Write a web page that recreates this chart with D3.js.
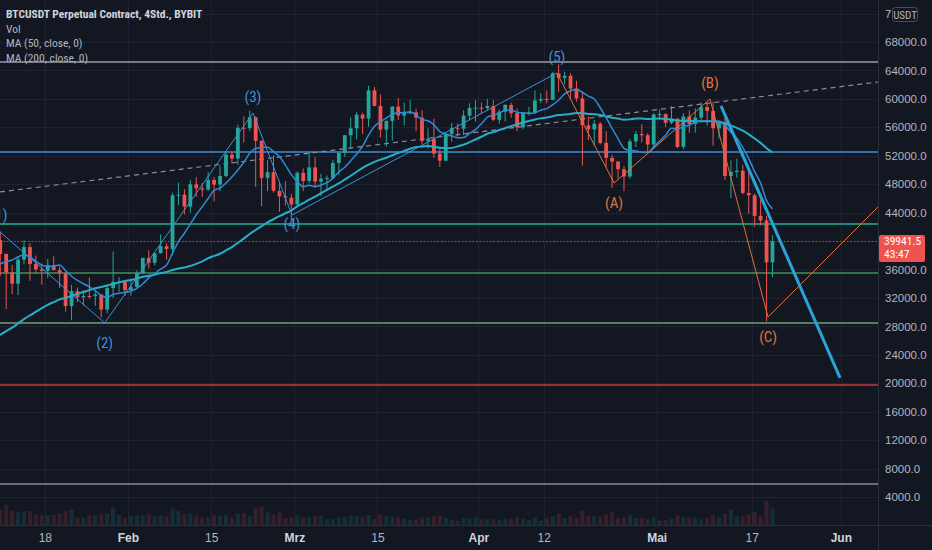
<!DOCTYPE html>
<html>
<head>
<meta charset="utf-8">
<script src="https://cdn.jsdelivr.net/npm/d3@7"></script>
<style>
  html, body { margin: 0; padding: 0; background: #131722; }
  svg { display: block; font-family: 'Liberation Sans Narrow', 'Roboto Condensed', Roboto, sans-serif; }
</style>
</head>
<body>
<div id="chart"></div>
<script>
// ---- data (daily candles) ----
const firstDay = "2021-01-10"

const opens = [
  40150,38180,35570,34000,37390,39150,36770,36010,35800,36630,35890,35470,30850,32950,32080,32260,32250,32470,30360,33370,34250,34260,
  33090,33520,35470,37620,36940,38290,39260,38870,46450,46510,44840,47970,47410,47230,48590,47940,49160,52150,51600,55920,55880,57410,54090,48890,49680,47060,46280,46100,
  45140,49590,48440,50350,48370,48760,48880,50970,52380,54880,55850,57770,57220,61190,59000,55660,56900,58910,57650,58030,58100,57350,54080,54340,52300,51300,55070,55860,55780,57630,58730,
  58740,58720,58990,57060,58200,59130,57990,56000,58080,58100,59770,59980,59860,63580,62950,63230,61450,60060,56270,55700,56500,53800,51700,51190,50100,49070,54020,55050,54880,53580,
  57800,57850,56630,57210,53240,57510,56440,57360,58840,58280,55860,56700,49150,49720,49890,46760,46430,43540,42900,37000
]
const highs = [
  41350,38260,36630,37850,40100,39700,37950,36850,37470,37850,36420,35600,33830,33460,33070,34880,32920,32560,33780,38530,34900,34300,
  34720,35900,37660,38700,38310,40950,39700,46790,48200,47300,48630,48980,48150,49710,49000,50600,52620,52550,56370,57520,58350,57530,54180,51370,52040,48420,48400,46640,
  49800,50200,52640,51770,49450,49200,51450,52400,54900,57390,58150,58050,61840,61680,60630,56930,58980,60100,59470,59880,58600,58400,55840,57200,53240,55100,56600,56550,58400,59370,59800,
  59460,60000,59800,58500,59250,59460,58650,58150,58870,61200,60800,61200,63770,64850,63800,63600,62550,61000,57500,57050,56760,55450,52130,51200,50550,54350,55460,56430,55200,57960,
  58460,57950,58980,57250,57950,58380,58650,59500,59300,59600,56900,58000,51350,51550,50700,49800,46650,45800,43550,40800
]
const lows = [
  35110,30420,32530,32400,36700,34410,35360,33850,34800,35900,33400,30070,28850,31400,30900,31900,30840,29240,29840,31990,32850,32300,
  32300,33420,35360,36160,36570,38220,37350,37990,45000,43730,44000,46200,46200,47050,45550,47010,48950,50900,50710,53860,55480,47620,44900,47000,46800,44100,45000,43000,
  45000,47050,48100,47500,46300,47070,48700,49270,51850,53000,54270,55050,56080,58950,54570,53270,54120,57020,56270,57820,55450,53650,53000,51700,50430,51230,53960,54700,54900,57000,56770,
  57850,58400,56860,56500,56800,57350,55470,55700,57670,57900,59370,59370,59800,61000,62020,60000,59580,50600,54200,53400,53600,50400,47500,48750,47000,48800,53220,53880,52330,53050,
  57050,56050,56450,53050,52900,55200,55250,56950,56250,53400,54400,48600,46000,48900,46560,43830,42000,42200,28700,34900
]
const closes = [
  38180,35570,34000,37390,39150,36770,36010,35800,36630,35890,35470,30850,32950,32080,32260,32250,32470,30360,33370,34250,34260,33090,
  33520,35470,37620,36940,38290,39260,38870,46450,46510,44840,47970,47410,47230,48590,47940,49160,52150,51600,55920,55880,57410,54090,48890,49680,47060,46280,46100,45140,
  49590,48440,50350,48370,48760,48880,50970,52380,54880,55850,57770,57220,61190,59000,55660,56900,58910,57650,58030,58100,57350,54080,54340,52300,51300,55070,55860,55780,57630,58730,58740,
  58720,58990,57060,58200,59130,57990,56000,58080,58100,59770,59980,59860,63580,62950,63230,61450,60060,56270,55700,56500,53800,51700,51190,50100,49070,54020,55050,54880,53580,57800,
  57850,56630,57210,53240,57510,56440,57360,58840,58280,55860,56700,49150,49720,49890,46760,46430,43540,42900,37000,39941.5
]
const volumes = [
  120,160,110,100,110,110,80,75,75,80,90,110,120,60,55,75,75,90,90,140,80,55,
  70,75,80,90,70,80,70,130,110,90,90,75,60,60,80,75,80,60,90,95,70,140,150,100,85,100,55,60,
  75,60,65,70,75,45,50,60,65,75,70,65,80,50,80,70,65,60,50,40,45,60,60,70,75,55,40,35,55,50,60,
  45,50,50,40,50,50,65,50,40,60,35,50,70,90,55,70,55,110,75,70,65,85,100,55,60,80,55,55,50,60,
  35,40,50,75,65,60,60,45,55,80,60,90,120,70,70,85,100,65,190,130
]
// closes 2020-12-05 .. 2021-01-09, only needed to warm up the moving averages
const warmupCloses = [
  19150,19360,19170,18320,18550,18250,18040,18800,19170,19270,19430,21380,22800,23110,23850,23480,22750,23820,23240,23730,
  24710,26490,26280,27080,27390,28880,28930,29330,32180,33000,31990,33950,36770,39430,40580,40150
]

// horizontal levels drawn on the chart
const levelPrices = [65180, 52520, 42390, 35500, 28470, 19750, 5820]
const lastPrice = 39941.5
const countdown = "43:47"

// elliott wave drawings
const impulseDates = ["2021-01-10T07:00Z", "2021-01-28T02:00Z", "2021-02-22T01:00Z", "2021-02-28T14:30Z", "2021-04-14T05:00Z"]
const impulsePrices = [41400, 28480, 58010, 43660, 63640]
const impulseLabels = ["(1)", "(2)", "(3)", "(4)", "(5)"]
const correctionDates = ["2021-04-14T05:00Z", "2021-04-23T20:00Z", "2021-05-09T23:30Z", "2021-05-19T18:00Z", "2021-06-07T06:15Z"]
const correctionPrices = [63640, 48170, 59970, 29300, 44790]
const correctionLabels = ["", "(A)", "(B)", "(C)", ""]
const trendDates = ["2021-05-11T20:00Z", "2021-05-31T21:00Z"]
const trendPrices = [59010, 20740]
const dashedDates = ["2021-01-10T11:00Z", "2021-06-07T06:15Z"]
const dashedPrices = [46900, 62370]

// axis ticks
const yTicks = d3.range(4000, 76000, 4000)
const xTickDates = ["2021-01-18", "2021-02-01", "2021-02-15", "2021-03-01", "2021-03-15", "2021-04-01", "2021-04-12", "2021-05-01", "2021-05-17", "2021-06-01"]
const xTickLabels = ["18", "Feb", "15", "Mrz", "15", "Apr", "12", "Mai", "17", "Jun"]

const legendLines = ["BTCUSDT Perpetual Contract, 4Std., BYBIT", "Vol", "MA (50, close, 0)", "MA (200, close, 0)"]

function draw() {
  const dims = { width: 932, height: 550, plotW: 878, plotH: 525 }
  const colors = {
    bg: '#131722', grid: '#1f2331', border: '#2a2e39', text: '#b2b5be',
    up: '#26a69a', down: '#ef5350', ma50: '#2e8bd6', ma200: '#27aecb',
    wave: '#3d92d6', corr: '#e2703a', trend: '#29a3d8'
  }
  // one style per level line
  const levelStyles = [
    { c: '#777a85', w: 2 }, { c: '#3b8fd9', w: 1.5 }, { c: '#1d8a78', w: 2 }, { c: '#3f9357', w: 1.5 },
    { c: '#5b7d5d', w: 2 }, { c: '#9c2d31', w: 2 }, { c: '#6b6e79', w: 2 }
  ]

  // build candle rows from the arrays
  const start = new Date(firstDay + "T00:00Z")
  const candles = closes.map((c, i) => ({
    date: d3.utcDay.offset(start, i), o: opens[i], h: highs[i], l: lows[i], c: c, v: volumes[i]
  }))

  // moving averages: 50 / 200 bars of 4h ~ 8 / 33 days
  const allCloses = warmupCloses.concat(closes)
  const allStart = d3.utcDay.offset(start, -warmupCloses.length)
  const sma = (n) => allCloses.map((c, i) => i < n - 1 ? null : {
    date: d3.utcHour.offset(d3.utcDay.offset(allStart, i), 12),
    value: d3.mean(allCloses.slice(i - n + 1, i + 1))
  }).filter(d => d)

  const svg = d3.select('#chart').append('svg')
    .attr('width', dims.width).attr('height', dims.height)
  svg.append('rect').attr('width', dims.width).attr('height', dims.height).attr('fill', colors.bg)

  // scales
  const xScale = d3.scaleUtc()
    .domain([new Date("2021-01-10T11:00Z"), new Date("2021-06-07T06:15Z")])
    .range([0, dims.plotW])
  const yScale = d3.scaleLinear().domain([0, 73900]).range([525.4, 0])
  const volScale = d3.scaleLinear().domain([0, 190]).range([0, 24])
  const pxDay = xScale(new Date("2021-02-02")) - xScale(new Date("2021-02-01"))

  svg.append('clipPath').attr('id', 'plot-clip')
    .append('rect').attr('width', dims.plotW).attr('height', dims.plotH)
  const plot = svg.append('g').attr('clip-path', 'url(#plot-clip)')

  // grid
  plot.append('g').selectAll('line').data(yTicks).join('line')
    .attr('x1', 0).attr('x2', dims.plotW)
    .attr('y1', d => Math.round(yScale(d)) + 0.5).attr('y2', d => Math.round(yScale(d)) + 0.5)
    .attr('stroke', colors.grid)
  plot.append('g').selectAll('line').data(xTickDates).join('line')
    .attr('x1', d => Math.round(xScale(new Date(d))) + 0.5).attr('x2', d => Math.round(xScale(new Date(d))) + 0.5)
    .attr('y1', 0).attr('y2', dims.plotH)
    .attr('stroke', colors.grid)

  // volume
  plot.append('g').selectAll('rect').data(candles).join('rect')
    .attr('x', d => xScale(d3.utcHour.offset(d.date, 12)) - pxDay * 0.35)
    .attr('width', pxDay * 0.7)
    .attr('y', d => dims.plotH - volScale(d.v))
    .attr('height', d => volScale(d.v))
    .attr('fill', d => d.c >= d.o ? colors.up : colors.down)
    .attr('opacity', 0.16)

  // horizontal levels
  plot.append('g').selectAll('line').data(levelPrices).join('line')
    .attr('x1', 0).attr('x2', dims.plotW)
    .attr('y1', d => yScale(d)).attr('y2', d => yScale(d))
    .attr('stroke', (d, i) => levelStyles[i].c)
    .attr('stroke-width', (d, i) => levelStyles[i].w)

  // dashed trend line
  const line = d3.line().x(d => xScale(d[0])).y(d => yScale(d[1]))
  plot.append('path')
    .attr('d', line(dashedDates.map((d, i) => [new Date(d), dashedPrices[i]])))
    .attr('stroke', '#8a8d96').attr('stroke-width', 1.2).attr('stroke-dasharray', '5,4').attr('fill', 'none')

  // candles
  const cg = plot.append('g').selectAll('g').data(candles).join('g')
    .attr('fill', d => d.c >= d.o ? colors.up : colors.down)
    .attr('stroke', d => d.c >= d.o ? colors.up : colors.down)
  cg.append('line')
    .attr('x1', d => xScale(d3.utcHour.offset(d.date, 12))).attr('x2', d => xScale(d3.utcHour.offset(d.date, 12)))
    .attr('y1', d => yScale(d.h)).attr('y2', d => yScale(d.l))
    .attr('stroke-width', 1)
  cg.append('rect')
    .attr('stroke', 'none')
    .attr('x', d => xScale(d3.utcHour.offset(d.date, 12)) - pxDay * 0.32)
    .attr('width', pxDay * 0.64)
    .attr('y', d => yScale(Math.max(d.o, d.c)))
    .attr('height', d => Math.max(1, Math.abs(yScale(d.o) - yScale(d.c))))

  // moving averages
  const maLine = d3.line().x(d => xScale(d.date)).y(d => yScale(d.value)).curve(d3.curveMonotoneX)
  plot.append('path').attr('d', maLine(sma(33)))
    .attr('fill', 'none').attr('stroke', colors.ma200).attr('stroke-width', 2)
  plot.append('path').attr('d', maLine(sma(8)))
    .attr('fill', 'none').attr('stroke', colors.ma50).attr('stroke-width', 1.5)

  // wave paths
  const impulse = impulseDates.map((d, i) => [new Date(d), impulsePrices[i]])
  const correction = correctionDates.map((d, i) => [new Date(d), correctionPrices[i]])
  plot.append('path').attr('d', line(impulse))
    .attr('fill', 'none').attr('stroke', colors.wave).attr('stroke-width', 1)
  plot.append('path').attr('d', line(correction))
    .attr('fill', 'none').attr('stroke', colors.corr).attr('stroke-width', 1)
  plot.append('path')
    .attr('d', line(trendDates.map((d, i) => [new Date(d), trendPrices[i]])))
    .attr('fill', 'none').attr('stroke', colors.trend).attr('stroke-width', 3)

  // wave labels: above peaks, below troughs
  const labelDy = { "(4)": 14 }
  const waveLabel = (pts, labels, color) => {
    plot.append('g').selectAll('text').data(pts).join('text')
      .attr('x', d => xScale(d[0]))
      .attr('y', (d, i) => {
        const prev = pts[i - 1] ? pts[i - 1][1] : pts[i + 1][1]
        const peak = d[1] > prev
        const dy = labels[i] in labelDy ? labelDy[labels[i]] : (peak ? -11 : 25)
        return yScale(d[1]) + dy
      })
      .attr('text-anchor', 'middle')
      .attr('font-size', 15)
      .attr('fill', color)
      .text((d, i) => labels[i])
  }
  waveLabel(impulse, impulseLabels, colors.wave)
  waveLabel(correction, correctionLabels, colors.corr)

  // last price line
  plot.append('line')
    .attr('x1', 0).attr('x2', dims.plotW)
    .attr('y1', yScale(lastPrice)).attr('y2', yScale(lastPrice))
    .attr('stroke', colors.down).attr('stroke-dasharray', '1.5,2').attr('opacity', 0.8)

  // legend
  svg.append('g').selectAll('text').data(legendLines).join('text')
    .attr('x', 6).attr('y', (d, i) => 18 + i * 14.7)
    .attr('font-size', 11.5)
    .attr('font-weight', (d, i) => i === 0 ? 'bold' : 'normal')
    .attr('fill', (d, i) => i === 0 ? '#d1d4dc' : colors.text)
    .text(d => d)

  // axes
  svg.append('line').attr('x1', dims.plotW + 0.5).attr('x2', dims.plotW + 0.5)
    .attr('y1', 0).attr('y2', dims.height).attr('stroke', colors.border)
  svg.append('line').attr('x1', 0).attr('x2', dims.width)
    .attr('y1', dims.plotH + 0.5).attr('y2', dims.plotH + 0.5).attr('stroke', colors.border)

  // the label under the last price box is not shown
  const yAxis = d3.axisRight(yScale).tickValues(yTicks.filter(d => Math.abs(yScale(d) - yScale(lastPrice)) > 14))
    .tickFormat(d => d.toFixed(1)).tickSize(0).tickPadding(7)
  const yAxisGroup = svg.append('g').attr('transform', `translate(${dims.plotW}, 0)`).call(yAxis)
  yAxisGroup.select('.domain').remove()
  yAxisGroup.selectAll('text').attr('fill', colors.text).attr('font-size', 11.5).attr('font-family', null)

  const xAxis = d3.axisBottom(xScale).tickValues(xTickDates.map(d => new Date(d)))
    .tickFormat((d, i) => xTickLabels[i]).tickSize(0).tickPadding(8)
  const xAxisGroup = svg.append('g').attr('transform', `translate(0, ${dims.plotH})`).call(xAxis)
  xAxisGroup.select('.domain').remove()
  xAxisGroup.selectAll('text')
    .attr('font-family', null)
    .attr('font-size', 12)
    .attr('fill', (d, i) => isNaN(+xTickLabels[i]) ? '#d1d4dc' : colors.text)
    .attr('font-weight', (d, i) => isNaN(+xTickLabels[i]) ? 'bold' : 'normal')

  // currency box hides most of the top tick label
  svg.append('rect').attr('x', 891).attr('y', 6).attr('width', 36).attr('height', 17).attr('fill', colors.bg)
  svg.append('rect').attr('x', 892.5).attr('y', 7.5).attr('width', 25).attr('height', 14).attr('rx', 3)
    .attr('fill', colors.bg).attr('stroke', '#4a4e5a')
  svg.append('text').attr('x', 905).attr('y', 18.5).attr('text-anchor', 'middle')
    .attr('font-size', 11).attr('fill', colors.text).text('USDT')

  // last price label
  const py = yScale(lastPrice)
  svg.append('rect').attr('x', 879).attr('y', py - 6.5).attr('width', 46).attr('height', 27).attr('rx', 2)
    .attr('fill', colors.down)
  svg.append('text').attr('x', 884).attr('y', py + 4).attr('font-size', 11.5).attr('fill', '#fff').text(d3.format('.1f')(lastPrice))
  svg.append('text').attr('x', 884).attr('y', py + 17).attr('font-size', 11.5).attr('fill', '#fff').text(countdown)
}

draw()
</script>
</body>
</html>
